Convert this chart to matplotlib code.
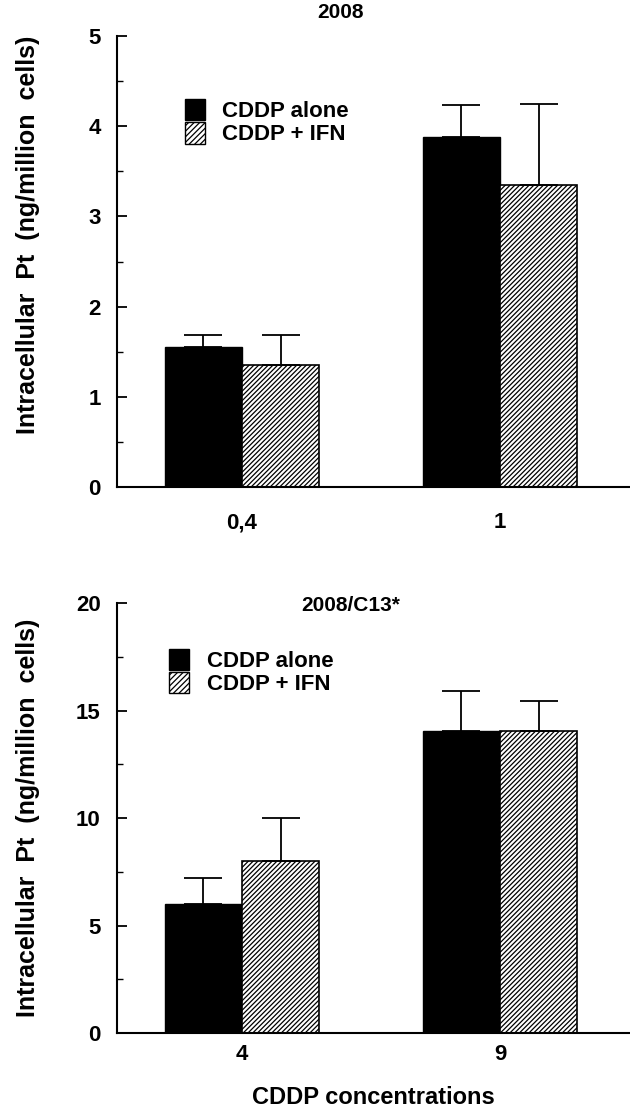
import matplotlib
matplotlib.use("Agg")
import matplotlib.pyplot as plt
from matplotlib.patches import Patch
import numpy as np

plt.rcParams['font.family'] = ['Liberation Sans', 'DejaVu Sans']
plt.rcParams['font.weight'] = 'bold'
plt.rcParams['hatch.linewidth'] = 0.9

# --- data ---
top_labels = ["0,4", "1"]
top_alone = [1.55, 3.88]
top_alone_err = [0.13, 0.35]
top_ifn = [1.35, 3.35]
top_ifn_err = [0.33, 0.90]

bot_labels = ["4", "9"]
bot_alone = [6.0, 14.05]
bot_alone_err = [1.2, 1.85]
bot_ifn = [8.0, 14.05]
bot_ifn_err = [2.0, 1.4]

series_names = ["CDDP alone", "CDDP + IFN"]

fig = plt.figure(figsize=(6.3, 11.18), dpi=100)
ax1 = fig.add_axes([0.186, 0.5644, 0.814, 0.4034])
ax2 = fig.add_axes([0.186, 0.0760, 0.814, 0.3846])

w = 0.30


def draw_panel(ax, labels, alone, alone_err, ifn, ifn_err, ymax, major, minor,
               title, title_pos, leg_pos, ylab_y, xpad):
    x = np.arange(len(labels))
    ax.bar(x - w / 2, alone, w, color='black', edgecolor='black', linewidth=1)
    ax.bar(x + w / 2, ifn, w, color='white', edgecolor='black', hatch='///////', linewidth=1.2)
    # one-sided error bars
    ax.errorbar(x - w / 2, alone, yerr=[np.zeros(len(x)), alone_err], fmt='none',
                ecolor='black', elinewidth=1.3, capsize=14, capthick=1.3)
    ax.errorbar(x + w / 2, ifn, yerr=[np.zeros(len(x)), ifn_err], fmt='none',
                ecolor='black', elinewidth=1.3, capsize=14, capthick=1.3)
    ax.set_xlim(-0.484, 1.504)
    ax.set_ylim(0, ymax)
    ax.set_yticks(np.arange(0, ymax + 0.01, major))
    ax.set_yticks(np.arange(0, ymax + 0.01, minor), minor=True)
    ax.set_xticks(x)
    ax.set_xticklabels(labels, fontsize=16, fontweight='bold')
    ax.tick_params(axis='x', length=0, pad=xpad)
    ax.tick_params(axis='y', direction='in', length=7, width=1.3, labelsize=16, pad=12)
    ax.tick_params(axis='y', which='minor', direction='in', length=4, width=1.0)
    for lab in ax.get_yticklabels():
        lab.set_fontweight('bold')
    ax.spines['top'].set_visible(False)
    ax.spines['right'].set_visible(False)
    ax.spines['left'].set_linewidth(1.5)
    ax.spines['bottom'].set_linewidth(1.5)
    ax.set_ylabel("Intracellular  Pt  (ng/million  cells)", fontsize=18, fontweight='bold')
    ax.yaxis.set_label_coords(-0.15, ylab_y)
    ax.text(title_pos[0], title_pos[1], title, transform=ax.transAxes,
            ha='center', va='center', fontsize=15, fontweight='bold')
    handles = [Patch(facecolor='black', edgecolor='black'),
               Patch(facecolor='white', edgecolor='black', hatch='//////')]
    ax.legend(handles, series_names, loc='upper left', bbox_to_anchor=leg_pos,
              frameon=False, handlelength=0.9, handleheight=1.1,
              handletextpad=0.8, labelspacing=0.0, borderpad=0,
              prop={'weight': 'bold', 'size': 16})


draw_panel(ax1, top_labels, top_alone, top_alone_err, top_ifn, top_ifn_err,
           5, 1, 0.5, "2008", (0.435, 1.053), (0.11, 0.885), 0.56, 18)
draw_panel(ax2, bot_labels, bot_alone, bot_alone_err, bot_ifn, bot_ifn_err,
           20, 5, 2.5, "2008/C13*", (0.455, 0.995), (0.08, 0.92), 0.5, 8)
ax2.set_xlabel("CDDP concentrations", fontsize=17, fontweight='bold', labelpad=15)

fig.savefig("out.png", dpi=100)
